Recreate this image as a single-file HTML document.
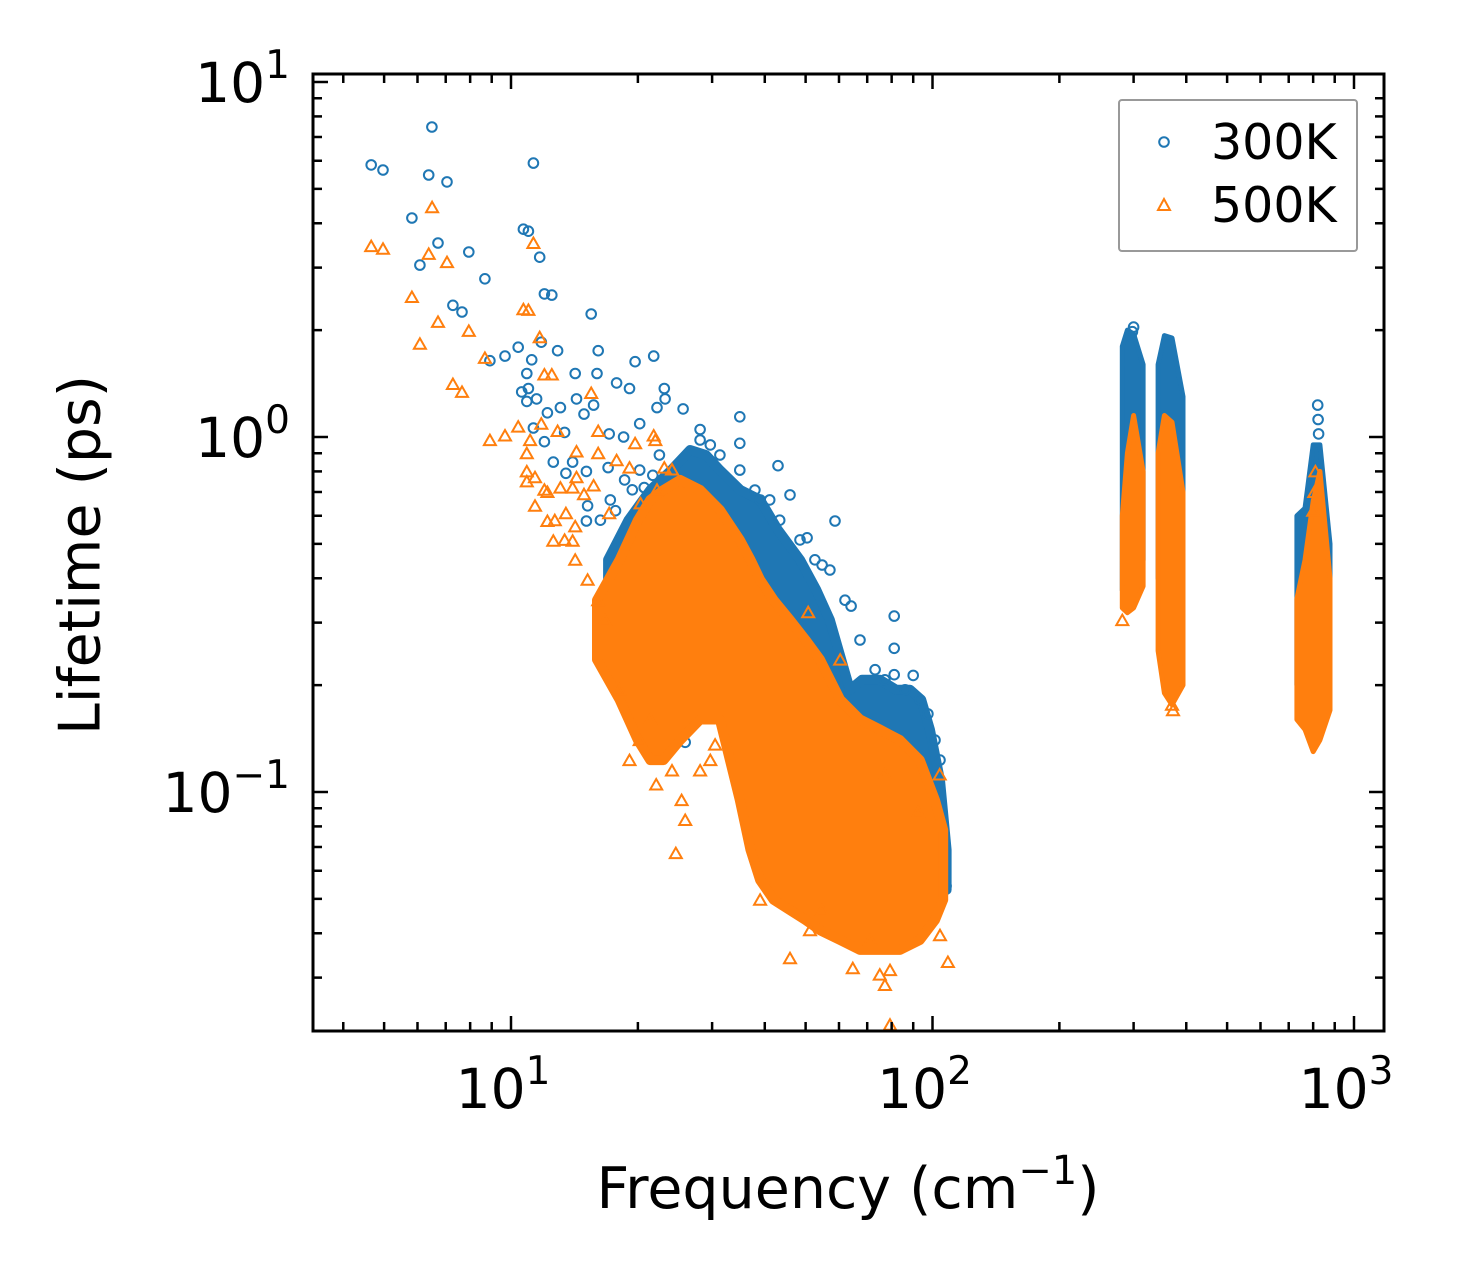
<!DOCTYPE html>
<html><head><meta charset="utf-8">
<style>
html,body{margin:0;padding:0;background:#fff;}
svg{display:block;font-family:"DejaVu Sans","Liberation Sans",sans-serif;}
</style></head>
<body>
<svg id="chart" width="1460" height="1281" viewBox="0 0 1460 1281" xmlns="http://www.w3.org/2000/svg">
<rect x="0" y="0" width="1460" height="1281" fill="#fff"/>
<defs><clipPath id="plotclip"><rect x="313" y="74" width="1071" height="957"/></clipPath></defs>
<g id="marks" clip-path="url(#plotclip)"></g>
<g id="axes"></g>
<text x="84" y="555" font-size="57" text-anchor="middle" transform="rotate(-90 84 555)" dominant-baseline="middle">Lifetime (ps)</text>
<text x="848" y="1208" font-size="57" text-anchor="middle">Frequency (cm<tspan dy="-24" font-size="40">−1</tspan><tspan dy="24">)</tspan></text>
<g>
<rect x="1119" y="100" width="238" height="151" fill="#fff" stroke="#999" stroke-width="2" rx="3"/>
<circle cx="1164" cy="142" r="4.8" fill="none" stroke="#1f77b4" stroke-width="2"/>
<text x="1211" y="159" font-size="49">300K</text>
<path d="M1164,199 L1170,210 L1158,210 Z" fill="none" stroke="#ff7f0e" stroke-width="2"/>
<text x="1211" y="222" font-size="49">500K</text>
</g>
</svg>
<script>
// ---- data (frequency cm^-1, lifetime ps) ----
const freq300 = [6.49,4.66,4.97,6.38,7.05,11.3,5.82,6.71,6.08,7.94,8.67,10.7,11.0,11.7,12.0,12.5,7.28,7.65,15.5,10.4,9.68,8.91,11.2,11.8,12.9,16.1,19.7,21.8,10.9,14.2,16.0,17.8,19.1,23.1,10.6,11.0,10.9,11.5,12.2,13.1,14.3,14.9,15.7,20.2,23.2,22.2,11.3,12.0,13.4,17.1,12.6,14.0,15.1,13.5,17.0,19.4,20.7,15.2,15.1,18.5,25.6,34.9,34.9,43.0,58.7,50.4,54.7,64.1,81.1,81.1,81.1,90.0,97.5,107.7,98.6,45.9,39.0,28.1,29.7,21.7,17.7,25.2,24.8,25.9,300,298,296,820,822,824,
  16.3,17.2,18.6,20.2,22.5,28.1,31.3,34.9,37.9,41.1,43.4,48.5,52.6,57.1,62.0,67.3,73.1,77.1,86.1,93.3,101.4,104.2];
const life300 = [7.47,5.84,5.65,5.47,5.23,5.91,4.14,3.52,3.05,3.32,2.79,3.85,3.80,3.21,2.53,2.51,2.35,2.25,2.22,1.79,1.69,1.64,1.65,1.85,1.75,1.75,1.63,1.69,1.51,1.51,1.51,1.42,1.37,1.37,1.34,1.37,1.26,1.28,1.17,1.21,1.28,1.16,1.23,1.09,1.28,1.21,1.06,0.97,1.03,1.02,0.85,0.85,0.80,0.79,0.82,0.71,0.72,0.64,0.58,1.0,1.2,1.14,0.96,0.83,0.58,0.52,0.436,0.334,0.313,0.254,0.214,0.213,0.166,0.0543,0.073,0.687,0.665,1.05,0.95,0.78,0.62,0.19,0.155,0.138,2.04,1.98,1.92,1.23,1.12,1.02,
  0.583,0.665,0.757,0.807,0.890,0.981,0.890,0.807,0.709,0.665,0.583,0.513,0.451,0.422,0.347,0.268,0.221,0.207,0.194,0.182,0.140,0.123];
const freq500 = [6.50,4.66,4.97,6.38,7.05,11.3,5.82,10.7,11.0,6.71,7.94,6.08,11.7,8.67,12.0,12.5,7.28,7.65,15.5,8.91,9.68,10.4,11.1,11.8,12.9,16.1,21.8,19.7,10.9,14.3,16.1,17.8,19.1,23.1,10.9,11.4,10.9,14.3,15.7,12.2,13.1,14.0,14.9,20.3,22.2,17.1,11.4,13.5,12.2,14.2,12.6,14.0,24.6,25.9,25.4,22.1,24.1,28.1,29.7,30.5,19.1,20.2,21.4,18.1,16.7,16.1,15.2,14.2,13.4,12.7,12.0,45.9,64.7,77.1,79.3,108.8,104.2,51.2,39.0,54.7,71.1,79.3,75.0,24.1,22.0,50.7,60.4,77.1,104,92.5,282,370,372,800,805,810];
const life500 = [4.44,3.45,3.39,3.28,3.11,3.52,2.48,2.29,2.28,2.11,1.99,1.83,1.91,1.67,1.50,1.50,1.41,1.34,1.33,0.98,1.01,1.07,0.98,1.09,1.04,1.04,1.01,0.96,0.90,0.91,0.90,0.86,0.82,0.82,0.80,0.77,0.75,0.77,0.73,0.70,0.72,0.72,0.69,0.65,0.71,0.61,0.64,0.61,0.58,0.56,0.51,0.51,0.0673,0.0834,0.0949,0.105,0.115,0.115,0.123,0.136,0.123,0.140,0.160,0.194,0.305,0.347,0.396,0.451,0.513,0.583,0.71,0.034,0.0319,0.0286,0.0221,0.0332,0.0395,0.0408,0.0497,0.0465,0.0383,0.0315,0.0306,0.81,0.98,0.321,0.236,0.112,0.112,0.0878,0.305,0.176,0.17,0.62,0.70,0.80];

// dense bands (frequency, upper lifetime, lower lifetime)
const band300MainF  = [17,19,21.4,24,26.6,29,31.3,35,39,43,48.5,53,57.1,63.7,68,75,82,88.5,94,98.6,104.2,108];
const band300MainHi = [0.451,0.583,0.709,0.807,0.919,0.890,0.807,0.709,0.665,0.547,0.451,0.371,0.305,0.194,0.207,0.207,0.194,0.194,0.182,0.150,0.108,0.0687];
const band300MainLo = [0.347,0.305,0.268,0.236,0.207,0.182,0.160,0.140,0.123,0.108,0.0949,0.0834,0.0733,0.0643,0.0603,0.0565,0.0565,0.0565,0.0565,0.0565,0.0530,0.0530];
const band300AF  = [282,290,300,316];
const band300AHi = [1.8,2.0,1.95,1.6];
const band300ALo = [0.37,0.35,0.37,0.45];
const band300BF  = [343,355,370,393];
const band300BHi = [1.6,1.93,1.9,1.3];
const band300BLo = [0.4,0.35,0.3,0.32];
const band300CF  = [732,765,800,830,877];
const band300CHi = [0.6,0.63,0.95,0.95,0.5];
const band300CLo = [0.2,0.2,0.2,0.25,0.3];

const band500MainF  = [16,18.1,20,21.4,23,25.2,28.1,31.3,34.9,37,39,42,45.9,50,54.1,60.4,67.3,75,83.7,93.3,101.4,106];
const band500MainHi = [0.347,0.451,0.583,0.665,0.709,0.757,0.709,0.623,0.513,0.451,0.396,0.347,0.305,0.268,0.236,0.182,0.160,0.150,0.140,0.123,0.0949,0.0782];
const band500MainLo = [0.236,0.182,0.140,0.123,0.123,0.140,0.160,0.160,0.0949,0.0687,0.0565,0.0497,0.0465,0.0436,0.0408,0.0383,0.0359,0.0359,0.0359,0.0383,0.0436,0.0497];
const band500AF  = [282,290,300,316];
const band500AHi = [0.6,0.9,1.15,0.8];
const band500ALo = [0.33,0.32,0.33,0.38];
const band500BF  = [343,355,370,393];
const band500BHi = [0.9,1.15,1.1,0.7];
const band500BLo = [0.25,0.19,0.176,0.2];
const band500CF  = [732,765,800,830,877];
const band500CHi = [0.35,0.45,0.66,0.8,0.4];
const band500CLo = [0.16,0.15,0.13,0.14,0.17];

const xTickVals = [10,100,1000];
const xTickLabels = [["10","1"],["10","2"],["10","3"]];
const yTickVals = [10,1,0.1];
const yTickLabels = [["10","1"],["10","0"],["10","−1"]];

// ---- axes ----
const PL=313, PR=1384, PT=74, PB=1031;
const X10=511, XDEC=421.5, Y1=437, YDEC=355;
function xs(f){ return X10 + (Math.log10(f)-1)*XDEC; }
function ys(t){ return Y1 - Math.log10(t)*YDEC; }
const NS='http://www.w3.org/2000/svg';
const marks=document.getElementById('marks');
const axes=document.getElementById('axes');
function mk(tag, attrs, parent){ const e=document.createElementNS(NS,tag); for(const k in attrs) e.setAttribute(k,attrs[k]); parent.appendChild(e); return e; }

function band(F,Hi,Lo,color,name,sw){
  const pts=[];
  for(let i=0;i<F.length;i++) pts.push(xs(F[i]).toFixed(1)+','+ys(Hi[i]).toFixed(1));
  for(let i=F.length-1;i>=0;i--) pts.push(xs(F[i]).toFixed(1)+','+ys(Lo[i]).toFixed(1));
  const p=mk('polygon',{points:pts.join(' '),fill:color,stroke:color,'stroke-width':sw,'stroke-linejoin':'round'},marks);
  
  
}
function circles(F,L,name){
  for(let i=0;i<F.length;i++){
    const c=mk('circle',{cx:xs(F[i]).toFixed(1),cy:ys(L[i]).toFixed(1),r:4.8,fill:'none',stroke:'#1f77b4','stroke-width':2},marks);
    
    
  }
}
function tris(F,L,name){
  for(let i=0;i<F.length;i++){
    const x=xs(F[i]), y=ys(L[i]);
    const p=mk('path',{d:`M${x.toFixed(1)},${(y-5.5).toFixed(1)} L${(x+6).toFixed(1)},${(y+5).toFixed(1)} L${(x-6).toFixed(1)},${(y+5).toFixed(1)} Z`,fill:'none',stroke:'#ff7f0e','stroke-width':2},marks);
    
    
  }
}
const B='#1f77b4', O='#ff7f0e';
band(band300MainF,band300MainHi,band300MainLo,B,'band-300k-acoustic',10);
band(band300AF,band300AHi,band300ALo,B,'band-300k-optical-a',5);
band(band300BF,band300BHi,band300BLo,B,'band-300k-optical-b',5);
band(band300CF,band300CHi,band300CLo,B,'band-300k-optical-c',5);
circles(freq300,life300,'point-300k');
band(band500MainF,band500MainHi,band500MainLo,O,'band-500k-acoustic',10);
band(band500AF,band500AHi,band500ALo,O,'band-500k-optical-a',5);
band(band500BF,band500BHi,band500BLo,O,'band-500k-optical-b',5);
band(band500CF,band500CHi,band500CLo,O,'band-500k-optical-c',5);
tris(freq500,life500,'point-500k');

// spines
const frame=mk('rect',{x:PL,y:PT,width:PR-PL,height:PB-PT,fill:'none',stroke:'#000','stroke-width':3},axes);



// x ticks
for(let d=0; d<4; d++){
  for(let m=1;m<10;m++){
    const f=m*Math.pow(10,d);
    const x=xs(f);
    if(x<PL+1||x>PR-1) continue;
    const len = m===1?15:9;
    const t1=mk('line',{x1:x,y1:PB,x2:x,y2:PB-len,stroke:'#000','stroke-width':2.5},axes);
    
    
    const t2=mk('line',{x1:x,y1:PT,x2:x,y2:PT+len,stroke:'#000','stroke-width':2.5},axes);
    
    
  }
}
for(let i=0;i<xTickVals.length;i++){
  const x=xs(xTickVals[i]);
  const t=mk('text',{x:x-8,y:1108,'font-size':55,'text-anchor':'middle'},axes);
  
  
  t.textContent=xTickLabels[i][0];
  const s=mk('tspan',{dy:-24,'font-size':39},t); s.textContent=xTickLabels[i][1];
}
// y ticks
for(let d=-2; d<1; d++){
  for(let m=1;m<10;m++){
    const v=m*Math.pow(10,d);
    const y=ys(v);
    if(y<PT+1||y>PB-1) continue;
    const len = m===1?15:9;
    const t1=mk('line',{x1:PL,y1:y,x2:PL+len,y2:y,stroke:'#000','stroke-width':2.5},axes);
    
    
    const t2=mk('line',{x1:PR,y1:y,x2:PR-len,y2:y,stroke:'#000','stroke-width':2.5},axes);
    
    
  }
}
{ const y=ys(10); const t1=mk('line',{x1:PL,y1:y,x2:PL+15,y2:y,stroke:'#000','stroke-width':2.5},axes);
  
   }
for(let i=0;i<yTickVals.length;i++){
  const y=ys(yTickVals[i]);
  const t=mk('text',{x:290,y:y+20,'font-size':55,'text-anchor':'end'},axes);
  
  
  t.textContent=yTickLabels[i][0];
  const s=mk('tspan',{dy:-24,'font-size':39},t); s.textContent=yTickLabels[i][1];
}
</script>
</body></html>
